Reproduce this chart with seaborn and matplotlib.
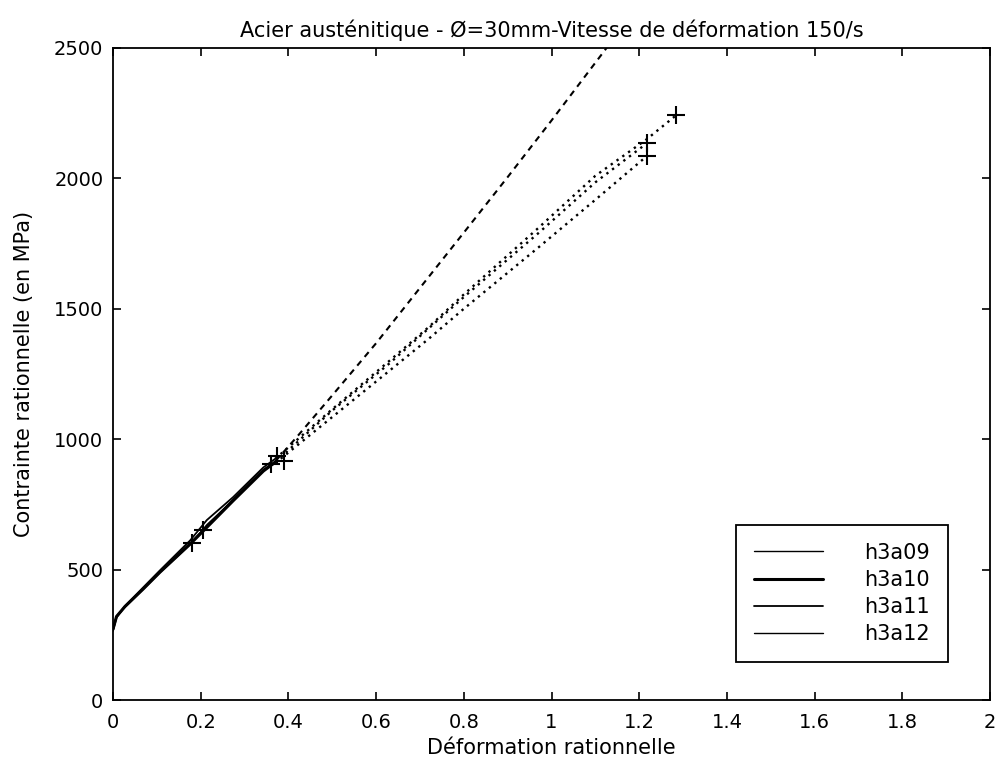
import matplotlib
matplotlib.use("Agg")
import matplotlib.pyplot as plt
import seaborn as sns
import pandas as pd

# measured part (solid)
names = ["h3a09", "h3a10", "h3a11", "h3a12"]
eps_solid = [0.0, 0.008, 0.027, 0.069, 0.107, 0.176, 0.214, 0.274, 0.343, 0.37]
sig_h3a09 = [268, 318, 356, 428, 493, 602, 668, 770, 884, 915]
sig_h3a10 = [272, 320, 358, 426, 490, 598, 662, 764, 878, 912]
sig_h3a11 = [265, 316, 360, 432, 497, 612, 690, 778, 892, 925]
sig_h3a12 = [270, 322, 355, 424, 488, 596, 672, 766, 880, 908]

# extrapolated part (dotted)
eps_ext_09 = [0.37, 0.42, 0.50, 0.60, 0.70, 0.80, 0.90, 1.00, 1.13]
sig_ext_09 = [915, 1010, 1168, 1368, 1580, 1792, 2005, 2222, 2510]
eps_ext = [0.37, 0.50, 0.63, 0.72, 0.80, 0.97, 1.10, 1.217, 1.285]
sig_ext_10 = [912, 1110, 1290, 1425, 1545, 1790, 1985, 2134, None]
sig_ext_11 = [925, 1115, 1300, 1430, 1555, 1810, 2010, 2150, 2243]
sig_ext_12 = [908, 1085, 1262, 1385, 1500, 1735, 1918, 2085, None]

# "+" marks
mark_eps = [0.18, 0.205, 0.36, 0.375, 0.39, 1.217, 1.217, 1.285]
mark_sig = [602, 652, 905, 935, 918, 2134, 2085, 2243]

sns.set_style("ticks")
plt.rcParams["font.family"] = ["DejaVu Sans"]
plt.rcParams["text.color"] = "black"
plt.rcParams["axes.labelcolor"] = "black"

fig, ax = plt.subplots(figsize=(9.98, 7.75), dpi=100)
fig.subplots_adjust(left=113 / 998, right=990 / 998, bottom=1 - 700 / 775, top=1 - 48 / 775)

solid = {"h3a09": sig_h3a09, "h3a10": sig_h3a10, "h3a11": sig_h3a11, "h3a12": sig_h3a12}
widths = {"h3a09": 1.0, "h3a10": 2.2, "h3a11": 1.3, "h3a12": 1.0}
for n in names:
    sns.lineplot(x=eps_solid, y=solid[n], ax=ax, color="black", lw=widths[n],
                 label=n, sort=False, estimator=None)

ext = pd.DataFrame({"eps": eps_ext, "h3a10": sig_ext_10, "h3a11": sig_ext_11, "h3a12": sig_ext_12})
sns.lineplot(x=eps_ext_09, y=sig_ext_09, ax=ax, color="black", lw=1.5,
             ls=(0, (3, 2.5)), sort=False, estimator=None)
for n in ["h3a10", "h3a11", "h3a12"]:
    d = ext.dropna(subset=[n])
    sns.lineplot(data=d, x="eps", y=n, ax=ax, color="black", lw=1.7,
                 ls=(0, (1, 2)), sort=False, estimator=None)

sns.scatterplot(x=mark_eps, y=mark_sig, ax=ax, marker="+", color="black",
                s=150, linewidth=1.5, zorder=5)

ax.set_xlim(0, 2)
ax.set_ylim(0, 2500)
ax.set_xticks([0, 0.2, 0.4, 0.6, 0.8, 1, 1.2, 1.4, 1.6, 1.8, 2])
ax.set_xticklabels(["0", "0.2", "0.4", "0.6", "0.8", "1", "1.2", "1.4", "1.6", "1.8", "2"])
ax.set_yticks([0, 500, 1000, 1500, 2000, 2500])
ax.tick_params(direction="in", top=True, right=True, length=6, width=1.2,
               labelsize=14, colors="black")
ax.tick_params(axis="x", pad=9)
ax.tick_params(axis="y", pad=7)
for s in ax.spines.values():
    s.set_color("black")
    s.set_linewidth(1.3)

ax.set_title("Acier austénitique - Ø=30mm-Vitesse de déformation 150/s", fontsize=15,
             pad=8, color="black")
ax.set_xlabel("Déformation rationnelle", fontsize=15, labelpad=5)
ax.set_ylabel("Contrainte rationnelle (en MPa)", fontsize=15, labelpad=14)

leg = ax.legend(loc="lower right", bbox_to_anchor=(0.952, 0.058), borderaxespad=0,
                fancybox=False, edgecolor="black", framealpha=1, fontsize=15,
                handlelength=3.3, handletextpad=2.0, labelspacing=0.35, borderpad=0.85)
leg.get_frame().set_linewidth(1.3)
for t in leg.get_texts():
    t.set_color("black")

fig.savefig("out.png", dpi=100)
